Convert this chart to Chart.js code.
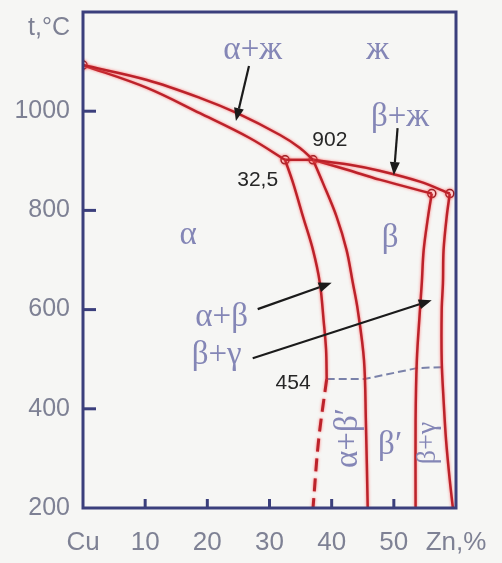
<!DOCTYPE html>
<html><head><meta charset="utf-8">
<script src="https://cdn.jsdelivr.net/npm/chart.js@4.4.1/dist/chart.umd.min.js"></script>
<style>html,body{margin:0;padding:0;background:#f6f6f4;}#wrap{width:502px;height:563px;}</style>
</head><body><div id="wrap"><canvas id="c" width="502" height="563"></canvas></div>
<script>
// ---- axis ticks ----
const xTickValues = [0, 10, 20, 30, 40, 50, 60];
const xTickLabels = ['Cu', '10', '20', '30', '40', '50', 'Zn,%'];
const yTickValues = [200, 400, 600, 800, 1000];
const xInnerTicks = [10, 20, 30, 40, 50];
const yInnerTicks = [400, 600, 800, 1000];
const yAxisTitle = 't,°C';

// ---- phase boundaries (x = % Zn, y = °C) ----
const liquidusAlphaX = [0, 10.3, 18.8, 24.8, 31.7, 34.9, 37.0];
const liquidusAlphaY = [1093, 1063, 1027, 996, 952, 926, 902];
const solidusAlphaX = [0, 10.3, 18.8, 26.8, 32.5];
const solidusAlphaY = [1093, 1047, 996, 946, 902];
const peritecticX = [32.5, 37.0];
const peritecticY = [902, 902];
const liquidusBetaX = [37.0, 42.9, 47.7, 54.2, 59.0];
const liquidusBetaY = [902, 892, 880, 858, 834];
const solidusBetaX = [37.0, 42.5, 47.7, 56.1];
const solidusBetaY = [902, 882, 862, 834];
const solvusAlphaX = [32.5, 33.8, 35.4, 37.0, 38.1, 38.7, 39.1, 39.2];
const solvusAlphaY = [902, 855, 787, 720, 654, 579, 519, 460];
const solvusAlphaLowX = [39.2, 37.9, 37.0];
const solvusAlphaLowY = [460, 337, 200];
const betaLeftX = [37.0, 38.6, 40.8, 42.4, 43.4, 44.2, 45.2, 45.5, 45.8];
const betaLeftY = [902, 855, 787, 720, 654, 599, 498, 377, 200];
const betaRightX = [56.1, 55.5, 54.8, 54.5, 54.2, 53.7, 53.5, 53.5];
const betaRightY = [834, 787, 720, 654, 599, 498, 377, 200];
const gammaX = [59.0, 58.5, 58.0, 57.9, 57.7, 57.7, 58.0, 58.4, 59.0, 59.5];
const gammaY = [834, 787, 720, 654, 599, 498, 418, 337, 256, 200];
const orderingX = [39.2, 45.3, 53.7, 57.7];
const orderingY = [460, 460, 482, 484];
const nodeX = [0, 32.5, 37.0, 56.1, 59.0];
const nodeY = [1093, 902, 902, 834, 834];

// ---- annotations (data units) ----
const arrows = [
  {x1: 26.7, y1: 1091, x2: 24.6, y2: 980},
  {x1: 50.6, y1: 966, x2: 50.0, y2: 871},
  {x1: 28.1, y1: 601, x2: 40.0, y2: 654},
  {x1: 27.3, y1: 502, x2: 56.1, y2: 619}
];
const regionLabels = [
  {t: 'α+ж', x: 27.3, y: 1123},
  {t: 'ж', x: 47.4, y: 1123},
  {t: 'β+ж', x: 51.0, y: 988},
  {t: 'α', x: 16.9, y: 750},
  {t: 'β', x: 49.4, y: 744},
  {t: 'α+β', x: 22.3, y: 585},
  {t: 'β+γ', x: 21.5, y: 508},
  {t: "β′", x: 49.4, y: 327},
  {t: "α+β′", x: 42.6, y: 341, rot: true},
  {t: 'β+γ', x: 55.5, y: 331, rot: true, small: true}
];
const valueLabels = [
  {t: '902', x: 39.7, y: 942},
  {t: '32,5', x: 28.1, y: 861},
  {t: '454', x: 33.8, y: 452}
];

const toPts = (xs, ys) => xs.map((v, i) => ({x: v, y: ys[i]}));
const RED = 'rgb(188,34,42)';
const NAVY = '#3b3f7c';
const TICKC = '#7e8194';
const REGC = '#8486b6';

function curve(xs, ys, extra) {
  return Object.assign({data: toPts(xs, ys), showLine: true, borderColor: RED, borderWidth: 2.5,
    pointRadius: 0, tension: 0.35, fill: false, glow: true}, extra || {});
}

const datasets = [
  curve(liquidusAlphaX, liquidusAlphaY),
  curve(solidusAlphaX, solidusAlphaY),
  curve(peritecticX, peritecticY, {tension: 0}),
  curve(liquidusBetaX, liquidusBetaY),
  curve(solidusBetaX, solidusBetaY),
  curve(solvusAlphaX, solvusAlphaY),
  curve(solvusAlphaLowX, solvusAlphaLowY, {borderDash: [13, 7], borderWidth: 3}),
  curve(betaLeftX, betaLeftY),
  curve(betaRightX, betaRightY),
  curve(gammaX, gammaY),
  {data: toPts(orderingX, orderingY), showLine: true, borderColor: '#7a82aa', borderWidth: 2,
    borderDash: [8, 4], pointRadius: 0, tension: 0, fill: false},
  {data: toPts(nodeX, nodeY), showLine: false, pointRadius: 4, pointBackgroundColor: '#ffffff',
    pointBorderColor: 'rgb(150,30,35)', pointBorderWidth: 1.5, glow: true}
];

const decor = {
  id: 'decor',
  beforeDraw(chart) {
    const c = chart.ctx;
    c.save(); c.fillStyle = '#f6f6f4'; c.fillRect(0, 0, chart.width, chart.height); c.restore();
  },
  beforeDatasetDraw(chart, args) {
    const ds = chart.data.datasets[args.index];
    chart.ctx.save();
    if (ds.glow) { chart.ctx.shadowColor = 'rgba(255,90,90,0.8)'; chart.ctx.shadowBlur = 3; }
  },
  afterDatasetDraw(chart) { chart.ctx.restore(); },
  afterDatasetsDraw(chart) {
    const c = chart.ctx, xs = chart.scales.x, ys = chart.scales.y;
    // arrows
    c.save();
    c.strokeStyle = '#1b1b1b'; c.fillStyle = '#1b1b1b'; c.lineWidth = 2.2;
    arrows.forEach(ar => {
      const x1 = xs.getPixelForValue(ar.x1), y1 = ys.getPixelForValue(ar.y1);
      const x2 = xs.getPixelForValue(ar.x2), y2 = ys.getPixelForValue(ar.y2);
      const ang = Math.atan2(y2 - y1, x2 - x1), hl = 13, hw = 5;
      const bx = x2 - hl * Math.cos(ang), by = y2 - hl * Math.sin(ang);
      c.beginPath(); c.moveTo(x1, y1); c.lineTo(bx, by); c.stroke();
      c.beginPath(); c.moveTo(x2, y2);
      c.lineTo(bx + hw * Math.sin(ang), by - hw * Math.cos(ang));
      c.lineTo(bx - hw * Math.sin(ang), by + hw * Math.cos(ang));
      c.closePath(); c.fill();
    });
    c.restore();
    // region labels
    c.save();
    c.fillStyle = REGC; c.textAlign = 'center'; c.textBaseline = 'middle';
    regionLabels.forEach(l => {
      const px = xs.getPixelForValue(l.x), py = ys.getPixelForValue(l.y);
      c.font = (l.small ? '28px' : '33px') + ' "Liberation Serif", "DejaVu Serif", serif';
      if (l.rot) {
        c.save(); c.translate(px, py); c.rotate(-Math.PI / 2); c.fillText(l.t, 0, 0); c.restore();
      } else c.fillText(l.t, px, py);
    });
    c.fillStyle = '#262626'; c.font = '21px "Liberation Sans", Arial, sans-serif';
    valueLabels.forEach(l => c.fillText(l.t, xs.getPixelForValue(l.x), ys.getPixelForValue(l.y)));
    c.restore();
  },
  afterDraw(chart) {
    const c = chart.ctx, xs = chart.scales.x, ys = chart.scales.y, a = chart.chartArea;
    c.save();
    c.strokeStyle = NAVY; c.lineWidth = 3;
    c.strokeRect(a.left, a.top, a.right - a.left, a.bottom - a.top);
    xInnerTicks.forEach(v => {
      const px = xs.getPixelForValue(v);
      c.beginPath(); c.moveTo(px, a.bottom); c.lineTo(px, a.bottom - 9); c.stroke();
    });
    yInnerTicks.forEach(v => {
      const py = ys.getPixelForValue(v);
      c.beginPath(); c.moveTo(a.left, py); c.lineTo(a.left + 13, py); c.stroke();
    });
    c.fillStyle = TICKC; c.font = '25px "Liberation Sans", Arial, sans-serif';
    c.textAlign = 'right'; c.textBaseline = 'middle';
    c.fillText(yAxisTitle, a.left - 13, ys.getPixelForValue(1168));
    c.restore();
  }
};

new Chart(document.getElementById('c'), {
  type: 'scatter',
  data: {datasets},
  options: {
    responsive: false, animation: false, events: [],
    layout: {padding: {top: 12, right: 46, left: 0, bottom: 0}},
    plugins: {legend: {display: false}, tooltip: {enabled: false}},
    scales: {
      x: {
        type: 'linear', min: 0, max: 60,
        afterBuildTicks: s => { s.ticks = xTickValues.map(v => ({value: v})); },
        afterFit: s => { s.height = 55; s.paddingLeft = 0; s.paddingRight = 0; },
        grid: {display: false, drawTicks: false}, border: {display: false},
        ticks: {
          padding: 19, maxRotation: 0, autoSkip: false, color: TICKC,
          font: {size: 26, family: '"Liberation Sans", Arial, sans-serif'},
          callback: v => xTickLabels[xTickValues.indexOf(v)]
        }
      },
      y: {
        type: 'linear', min: 200, max: 1200,
        afterBuildTicks: s => { s.ticks = yTickValues.map(v => ({value: v})); },
        afterFit: s => { s.width = 83; s.paddingTop = 0; s.paddingBottom = 0; },
        grid: {display: false, drawTicks: false}, border: {display: false},
        ticks: {
          padding: 13, color: TICKC, autoSkip: false,
          font: {size: 25, family: '"Liberation Sans", Arial, sans-serif'},
          callback: v => String(v)
        }
      }
    }
  },
  plugins: [decor]
});
</script>
</body></html>
